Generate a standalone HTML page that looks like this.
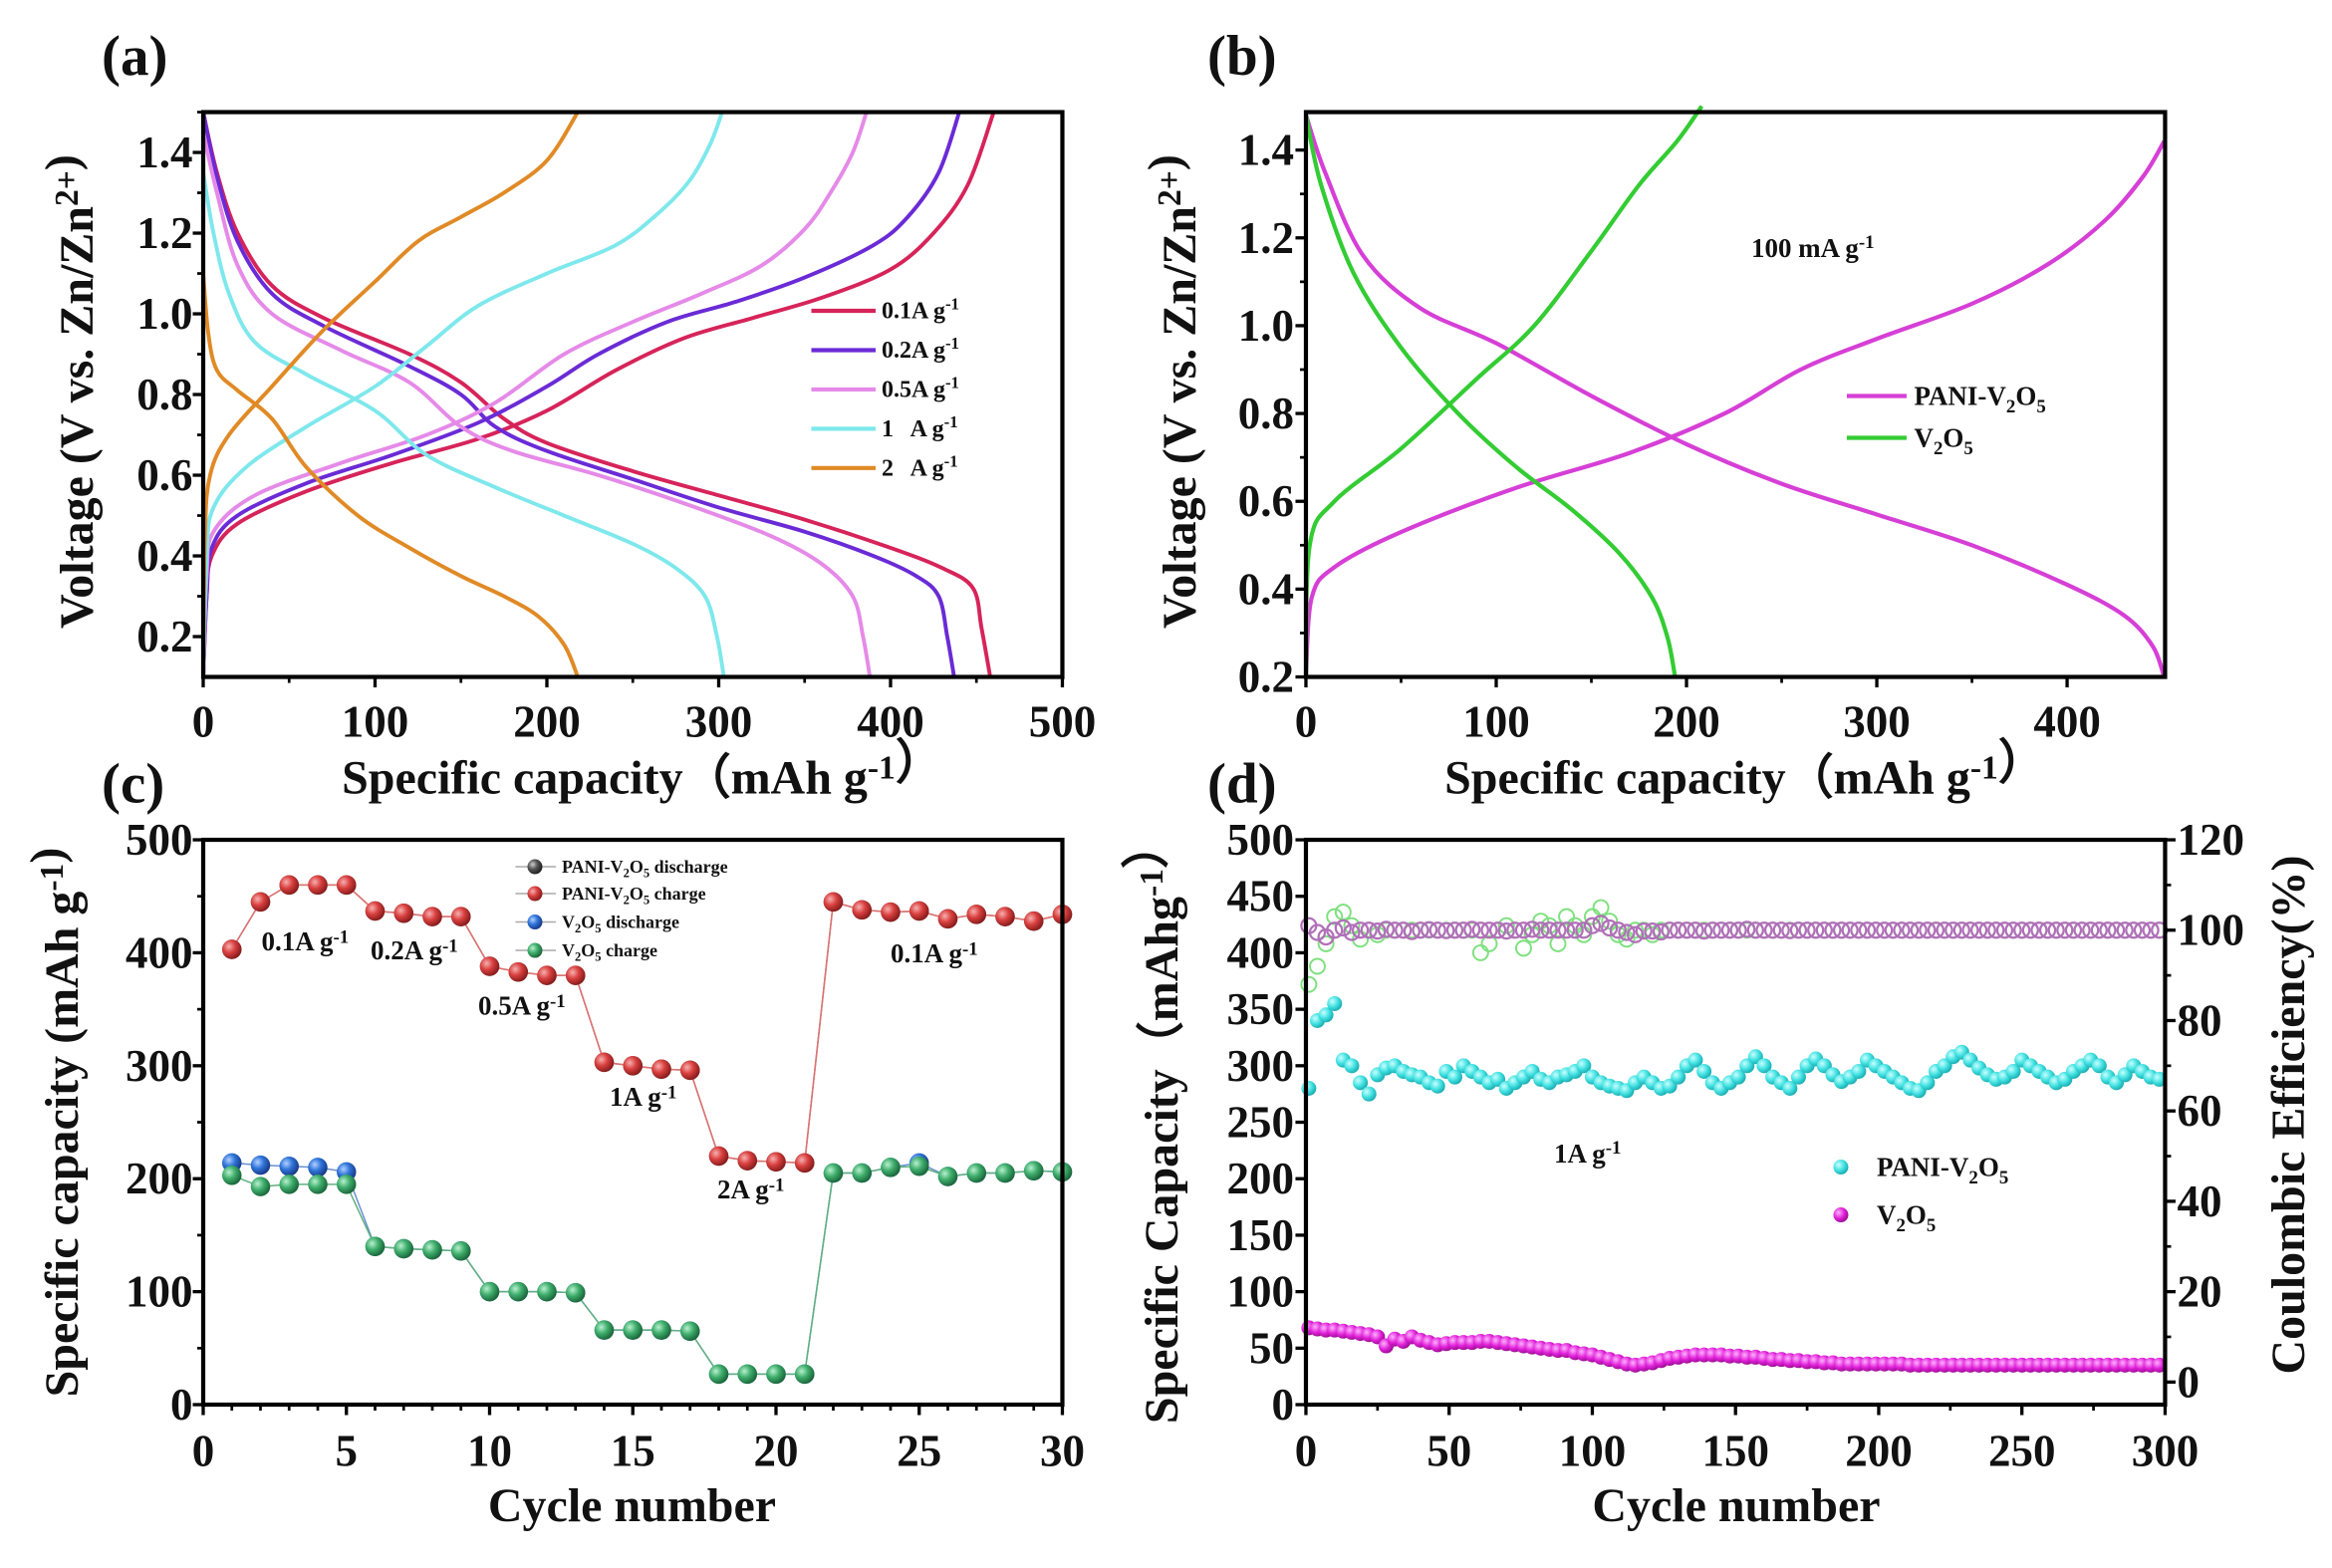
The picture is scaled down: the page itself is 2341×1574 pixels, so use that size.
<!DOCTYPE html>
<html><head><meta charset="utf-8">
<style>
html,body{margin:0;padding:0;background:#fff;}
svg{display:block;}
text{font-family:"Liberation Serif",serif;font-weight:bold;fill:#111;}
</style></head>
<body>
<svg id="fig" width="2341" height="1574" viewBox="0 0 1560.7 1049.3" xmlns="http://www.w3.org/2000/svg">
<defs>
<radialGradient id="gRed" cx="35%" cy="35%" r="65%"><stop offset="0" stop-color="#f7b0b0"/><stop offset="0.5" stop-color="#d9403f"/><stop offset="1" stop-color="#8c1e1e"/></radialGradient>
<radialGradient id="gGreen" cx="35%" cy="35%" r="65%"><stop offset="0" stop-color="#b8f0cf"/><stop offset="0.5" stop-color="#3fae6c"/><stop offset="1" stop-color="#1c6a3d"/></radialGradient>
<radialGradient id="gBlue" cx="35%" cy="35%" r="65%"><stop offset="0" stop-color="#b0d0ff"/><stop offset="0.5" stop-color="#2f74d9"/><stop offset="1" stop-color="#1a3d8c"/></radialGradient>
<radialGradient id="gGrey" cx="35%" cy="35%" r="65%"><stop offset="0" stop-color="#ccc"/><stop offset="0.5" stop-color="#555"/><stop offset="1" stop-color="#222"/></radialGradient>
<radialGradient id="gCyan" cx="35%" cy="35%" r="65%"><stop offset="0" stop-color="#c8ffff"/><stop offset="0.6" stop-color="#3fe0e0"/><stop offset="1" stop-color="#1fb0b5"/></radialGradient>
<radialGradient id="gMag" cx="35%" cy="35%" r="65%"><stop offset="0" stop-color="#ffb0ff"/><stop offset="0.6" stop-color="#e020d8"/><stop offset="1" stop-color="#a01098"/></radialGradient>
</defs>
</svg>
<script>
// ---------- Panel (a) data: [capacity, voltage] ----------
const a_d01 = [[0,1.5],[8,1.35],[20,1.2],[40,1.07],[70,0.99],[120,0.9],[150,0.83],[175,0.74],[200,0.68],[250,0.61],[300,0.55],[350,0.49],[400,0.42],[430,0.37],[448,0.32],[453,0.22],[458,0.1]];
const a_c01 = [[0,0.1],[2,0.3],[5,0.4],[20,0.48],[60,0.56],[110,0.63],[160,0.69],[200,0.76],[240,0.86],[280,0.94],[320,0.99],[360,1.04],[400,1.11],[425,1.2],[445,1.32],[460,1.5]];
const a_d02 = [[0,1.5],[8,1.34],[20,1.18],[40,1.05],[70,0.97],[120,0.87],[150,0.8],[170,0.72],[200,0.66],[250,0.59],[300,0.52],[350,0.46],[390,0.4],[415,0.35],[428,0.3],[433,0.2],[437,0.1]];
const a_c02 = [[0,0.1],[2,0.3],[5,0.42],[20,0.5],[60,0.58],[110,0.65],[160,0.73],[200,0.82],[230,0.9],[270,0.98],[310,1.03],[350,1.09],[390,1.17],[410,1.24],[428,1.35],[440,1.5]];
const a_d05 = [[0,1.45],[8,1.3],[20,1.12],[40,1.0],[80,0.91],[120,0.83],[150,0.72],[180,0.66],[230,0.6],[280,0.53],[330,0.45],[360,0.38],[378,0.3],[384,0.2],[388,0.1]];
const a_c05 = [[0,0.1],[2,0.35],[6,0.46],[30,0.55],[80,0.63],[130,0.7],[170,0.78],[210,0.9],[250,0.98],[290,1.05],[325,1.12],[350,1.21],[365,1.3],[378,1.4],[386,1.5]];
const a_d1 = [[0,1.35],[6,1.2],[15,1.05],[30,0.93],[60,0.85],[100,0.76],[130,0.65],[170,0.57],[210,0.5],[250,0.43],[275,0.37],[292,0.3],[299,0.2],[303,0.1]];
const a_c1 = [[0,0.1],[2,0.4],[6,0.52],[25,0.62],[60,0.72],[100,0.82],[130,0.92],[160,1.02],[200,1.1],[240,1.17],[265,1.25],[283,1.33],[295,1.42],[302,1.5]];
const a_d2 = [[0,1.1],[3,0.95],[8,0.86],[20,0.81],[40,0.74],[60,0.62],[90,0.5],[120,0.42],[150,0.35],[175,0.3],[195,0.25],[210,0.18],[218,0.1]];
const a_c2 = [[0,0.1],[1,0.45],[4,0.6],[15,0.7],[40,0.82],[70,0.96],[100,1.08],[125,1.18],[150,1.24],[175,1.3],[200,1.38],[218,1.5]];
// ---------- Panel (b) data ----------
const b_pd = [[0,1.48],[10,1.35],[30,1.16],[60,1.04],[100,0.96],[150,0.84],[200,0.73],[250,0.64],[300,0.57],[350,0.5],[400,0.41],[430,0.34],[445,0.27],[451,0.2]];
const b_pc = [[0,0.2],[3,0.38],[15,0.45],[50,0.53],[110,0.63],[170,0.71],[220,0.8],[260,0.9],[300,0.97],[350,1.05],[390,1.14],[420,1.24],[440,1.34],[451,1.42]];
const b_vd = [[0,1.48],[8,1.32],[25,1.12],[50,0.95],[80,0.8],[110,0.68],[140,0.58],[165,0.48],[182,0.38],[190,0.29],[194,0.2]];
const b_vc = [[0,0.2],[2,0.5],[15,0.6],[50,0.72],[90,0.88],[120,1.0],[150,1.17],[175,1.32],[195,1.42],[208,1.5]];
// ---------- Panel (c) data ----------
const c_cycles = [1,2,3,4,5,6,7,8,9,10,11,12,13,14,15,16,17,18,19,20,21,22,23,24,25,26,27,28,29,30];
const c_pani_dis = [403,445,460,460,460,437,435,432,432,388,383,380,380,303,300,297,296,220,216,215,214,445,438,436,437,430,434,432,428,434];
const c_pani_chg = [403,445,460,460,460,437,435,432,432,388,383,380,380,303,300,297,296,220,216,215,214,445,438,436,437,430,434,432,428,434];
const c_v_dis = [214,212,211,210,206,140,138,137,136,100,100,100,99,66,66,66,65,27,27,27,27,205,205,210,214,202,205,205,207,206];
const c_v_chg = [203,193,195,195,195,140,138,137,136,100,100,100,99,66,66,66,65,27,27,27,27,205,205,210,211,202,205,205,207,206];
// ---------- Panel (d) data (every 3rd cycle) ----------
const d_pani_cap = [280,340,345,355,305,300,285,275,292,298,300,295,292,290,285,282,295,290,300,295,290,285,288,280,285,290,295,288,285,290,292,295,300,290,285,282,280,278,285,290,285,280,282,290,300,305,295,285,280,285,290,300,308,300,290,285,280,290,300,306,300,292,286,290,295,305,300,295,290,285,280,278,285,295,300,308,312,305,298,292,288,290,295,305,300,295,290,285,288,295,300,305,300,290,285,292,300,295,290,288];
const d_v_cap = [68,67,66,66,65,64,63,62,60,52,58,56,60,57,55,53,54,55,55,55,56,56,55,54,53,52,51,50,49,48,48,46,45,44,42,40,38,36,35,36,37,39,41,42,43,44,44,44,44,43,43,42,42,41,40,40,39,39,38,38,37,37,36,36,36,36,36,36,36,36,35,35,35,35,35,35,35,35,35,35,35,35,35,35,35,35,35,35,35,35,35,35,35,35,35,35,35,35,35,35];
const d_pani_ce = [101,99.5,98.5,100,100.5,99.5,100,100,99.8,100.2,100,100,99.7,100,100.1,100,99.9,100,100,100.2,100,100,100,99.8,100,100,100.2,100,100,100,100,100,100,101,101.5,100.5,100,99.5,99,99.8,99.8,99.6,100,100,100,100,99.8,100,100,100,100,100.2,100,100,100,100,99.9,100,100,100,100,100,100,100,100,100,100,100,100,100,100,100,100,100,100,100,100,100,100,100,100,100,100,100,100,100,100,100,100,100,100,100,100,100,100,100,100,100,100,100];
const d_v_ce = [88,92,97,103,104,101,98,100,99,100,100,100,100,100,100,100,100,100,100,100,95,97,100,101,100,96,99,102,101,97,103,101,99,103,105,102,99,98,100,100,99,100,100,100,100,100,100,100,100,100,100,100,100,100,100,100,100,100,100,100,100,100,100,100,100,100,100,100,100,100,100,100,100,100,100,100,100,100,100,100,100,100,100,100,100,100,100,100,100,100,100,100,100,100,100,100,100,100,100,100];

const NS = 'http://www.w3.org/2000/svg';
const svg = document.getElementById('fig');
function mk(tag, attrs, parent){
  const e = document.createElementNS(NS, tag);
  for (const k in attrs) e.setAttribute(k, attrs[k]);
  (parent||svg).appendChild(e);
  return e;
}
function txt(s, x, y, size, anchor, parent){
  const t = mk('text', {x:x, y:y, 'font-size':size, 'text-anchor':anchor||'start'}, parent);
  t.innerHTML = s;
  return t;
}
function scale(d0,d1,r0,r1){ return v => r0 + (v-d0)/(d1-d0)*(r1-r0); }
const TICK = 30;

function frame(g, L, T, R, B){
  const r = mk('rect', {x:L, y:T, width:R-L, height:B-T, fill:'none', stroke:'#000', 'stroke-width':2.8}, g);
  
  
}
function xTicks(g, sx, vals, minor, B, labY){
  vals.forEach(v => {
    mk('line', {x1:sx(v), x2:sx(v), y1:B, y2:B+7, stroke:'#000', 'stroke-width':2.2}, g);
    const t = txt(String(v), sx(v), labY, TICK, 'middle', g);
    
    
  });
  minor.forEach(v => mk('line', {x1:sx(v), x2:sx(v), y1:B, y2:B+4, stroke:'#000', 'stroke-width':1.8}, g));
}
function yTicks(g, sy, vals, labels, minor, L, labX, side){
  vals.forEach((v,i) => {
    const dir = side==='r' ? 1 : -1;
    mk('line', {x1:L, x2:L+dir*7, y1:sy(v), y2:sy(v), stroke:'#000', 'stroke-width':2.2}, g);
    const t = txt(labels[i], labX, sy(v)+10, TICK, side==='r'?'start':'end', g);
    
    
  });
  minor.forEach(v => { const dir = side==='r'?1:-1; mk('line', {x1:L, x2:L+dir*4, y1:sy(v), y2:sy(v), stroke:'#000', 'stroke-width':1.8}, g); });
}
function curve(g, pts, sx, sy, color, name, w){
  const P = pts.map(p=>[sx(p[0]), sy(p[1])]);
  let d = 'M'+P[0][0].toFixed(2)+' '+P[0][1].toFixed(2);
  for (let i=0;i<P.length-1;i++){
    const p0=P[Math.max(i-1,0)], p1=P[i], p2=P[i+1], p3=P[Math.min(i+2,P.length-1)];
    const c1=[p1[0]+(p2[0]-p0[0])/6, p1[1]+(p2[1]-p0[1])/6];
    const c2=[p2[0]-(p3[0]-p1[0])/6, p2[1]-(p3[1]-p1[1])/6];
    d += ' C'+c1[0].toFixed(2)+' '+c1[1].toFixed(2)+' '+c2[0].toFixed(2)+' '+c2[1].toFixed(2)+' '+p2[0].toFixed(2)+' '+p2[1].toFixed(2);
  }
  const p = mk('path', {d:d, fill:'none', stroke:color, 'stroke-width':w||2.6, 'stroke-linejoin':'round'}, g);
  
  
}
const SUP = s => '<tspan dy="-10" font-size="70%">'+s+'</tspan>';

// ================= Panel (a) =================
{
  const g = mk('g', {});
  
  
  const L=136,R=711,T=75,B=453;
  const sx = scale(0,500,L,R), sy = scale(0.1,1.5,B,T);
  [['#d6245a',a_d01,a_c01,'0.1'],['#6a2bd6',a_d02,a_c02,'0.2'],['#e58ae8',a_d05,a_c05,'0.5'],['#7ee8ec',a_d1,a_c1,'1'],['#e08a26',a_d2,a_c2,'2']].forEach(s=>{
    curve(g, s[1], sx, sy, s[0], 'discharge-curve-'+s[3]);
    curve(g, s[2], sx, sy, s[0], 'charge-curve-'+s[3]);
  });
  frame(g,L,T,R,B);
  xTicks(g, sx, [0,100,200,300,400,500], [50,150,250,350,450], B, 493);
  yTicks(g, sy, [0.2,0.4,0.6,0.8,1.0,1.2,1.4], ['0.2','0.4','0.6','0.8','1.0','1.2','1.4'], [0.3,0.5,0.7,0.9,1.1,1.3,1.5], L, 129, 'l');
  let t = txt('(a)', 68, 50, 38, 'start', g);  
  t = txt('Specific capacity（mAh g'+SUP('-1')+'）', 430, 531, 32, 'middle', g);  
  t = txt('Voltage (V vs. Zn/Zn'+SUP('2+')+')', 0, 0, 32, 'middle', g); t.setAttribute('transform','translate(62,262) rotate(-90)');  
  const leg = [['#d6245a','0.1A g'],['#6a2bd6','0.2A g'],['#e58ae8','0.5A g'],['#7ee8ec','1 &#160; A g'],['#e08a26','2 &#160; A g']];
  leg.forEach((l,i)=>{
    const y = 208 + i*26.3;
    const ln = mk('line', {x1:543, x2:586, y1:y, y2:y, stroke:l[0], 'stroke-width':2.8}, g);
     
    const tt = txt(l[1]+'<tspan dy="-6" font-size="70%">-1</tspan>', 590, y+5, 16, 'start', g);
     
  });
}
// ================= Panel (b) =================
{
  const g = mk('g', {});
  
  
  const L=874,R=1449,T=75,B=453;
  const sx = scale(0,451.5,L,R), sy = scale(0.2,1.5,B,T-4);
  curve(g, b_pd, sx, sy, '#d63fd6', 'pani-discharge-curve', 2.8);
  curve(g, b_pc, sx, sy, '#d63fd6', 'pani-charge-curve', 2.8);
  curve(g, b_vd, sx, sy, '#33cc33', 'v2o5-discharge-curve', 2.8);
  curve(g, b_vc, sx, sy, '#33cc33', 'v2o5-charge-curve', 2.8);
  frame(g,L,T,R,B);
  xTicks(g, sx, [0,100,200,300,400], [50,150,250,350], B, 493);
  yTicks(g, sy, [0.2,0.4,0.6,0.8,1.0,1.2,1.4], ['0.2','0.4','0.6','0.8','1.0','1.2','1.4'], [0.3,0.5,0.7,0.9,1.1,1.3], L, 866, 'l');
  let t = txt('(b)', 808, 50, 38, 'start', g);  
  t = txt('Specific capacity（mAh g'+SUP('-1')+'）', 1168, 531, 32, 'middle', g);  
  t = txt('Voltage (V vs. Zn/Zn'+SUP('2+')+')', 0, 0, 32, 'middle', g); t.setAttribute('transform','translate(800,262) rotate(-90)');  
  t = txt('100 mA g<tspan dy="-6" font-size="70%">-1</tspan>', 1172, 172, 18, 'start', g);  
  [['#d63fd6','PANI-V<tspan dy="5" font-size="70%">2</tspan><tspan dy="-5">O</tspan><tspan dy="5" font-size="70%">5</tspan>',265],['#33cc33','V<tspan dy="5" font-size="70%">2</tspan><tspan dy="-5">O</tspan><tspan dy="5" font-size="70%">5</tspan>',293]].forEach(l=>{
    const ln = mk('line', {x1:1236, x2:1276, y1:l[2], y2:l[2], stroke:l[0], 'stroke-width':2.8}, g);
     
    const tt = txt(l[1], 1281, l[2]+6, 18, 'start', g);
     
  });
}
// ================= Panel (c) =================
{
  const g = mk('g', {});
  
  
  const L=136,R=711,T=562,B=940;
  const sx = scale(0,30,L,R), sy = scale(0,500,B,T);
  function series(vals, color, grad, name){
    const d = vals.map((v,i)=>(i?'L':'M')+sx(c_cycles[i]).toFixed(2)+' '+sy(v).toFixed(2)).join(' ');
    const p = mk('path', {d:d, fill:'none', stroke:color, 'stroke-width':1}, g);
     
    vals.forEach((v,i)=>{
      const c = mk('circle', {cx:sx(c_cycles[i]), cy:sy(v), r:6.5, fill:'url(#'+grad+')'}, g);
       
    });
  }
  series(c_pani_dis, '#888', 'gGrey', 'pani-discharge');
  series(c_pani_chg, '#e07070', 'gRed', 'pani-charge');
  series(c_v_dis, '#6a90d0', 'gBlue', 'v2o5-discharge');
  series(c_v_chg, '#60b080', 'gGreen', 'v2o5-charge');
  frame(g,L,T,R,B);
  xTicks(g, sx, [0,5,10,15,20,25,30], [1,2,3,4,6,7,8,9,11,12,13,14,16,17,18,19,21,22,23,24,26,27,28,29], B, 981);
  yTicks(g, sy, [0,100,200,300,400,500], ['0','100','200','300','400','500'], [50,150,250,350,450], L, 129, 'l');
  let t = txt('(c)', 68, 537, 38, 'start', g);  
  t = txt('Cycle number', 423, 1018, 32, 'middle', g);  
  t = txt('Specific capacity (mAh g'+SUP('-1')+')', 0, 0, 32, 'middle', g); t.setAttribute('transform','translate(52,751) rotate(-90)');  
  const sub = '<tspan dy="-5" font-size="70%">-1</tspan>';
  [['0.1A g',175,636],['0.2A g',248,642],['0.5A g',320,679],['1A g',408,740],['2A g',480,802],['0.1A g',596,644]].forEach(a=>{
    const tt = txt(a[0]+sub, a[1], a[2], 18, 'start', g);  
  });
  const v2o5 = 'V<tspan dy="3" font-size="70%">2</tspan><tspan dy="-3">O</tspan><tspan dy="3" font-size="70%">5</tspan><tspan dy="-3">';
  [['gGrey','PANI-'+v2o5+' discharge</tspan>',580],['gRed','PANI-'+v2o5+' charge</tspan>',598],['gBlue',v2o5+' discharge</tspan>',617],['gGreen',v2o5+' charge</tspan>',636]].forEach(l=>{
    mk('line', {x1:345, x2:372, y1:l[2], y2:l[2], stroke:'#aaa', 'stroke-width':1}, g);
    const c = mk('circle', {cx:358, cy:l[2], r:5, fill:'url(#'+l[0]+')'}, g);
     
    const tt = txt(l[1], 376, l[2]+4, 12, 'start', g);  
  });
}
// ================= Panel (d) =================
{
  const g = mk('g', {});
  
  
  const L=874,R=1449,T=562,B=940;
  const sx = scale(0,300,L,R), sy = scale(0,500,B,T), sy2 = scale(-5,120,B,T);
  const cyc = i => 1 + i*3;
  d_v_ce.forEach((v,i)=>{ const c=mk('circle',{cx:sx(cyc(i)),cy:sy2(v),r:5,fill:'none',stroke:'#7ee07e','stroke-width':1.3},g);   });
  d_pani_ce.forEach((v,i)=>{ const c=mk('circle',{cx:sx(cyc(i)),cy:sy2(v),r:5,fill:'none',stroke:'#b070b8','stroke-width':1.5},g);   });
  d_pani_cap.forEach((v,i)=>{ const c=mk('circle',{cx:sx(cyc(i)),cy:sy(v),r:5,fill:'url(#gCyan)'},g);   });
  d_v_cap.forEach((v,i)=>{ const c=mk('circle',{cx:sx(cyc(i)),cy:sy(v),r:5,fill:'url(#gMag)'},g);   });
  frame(g,L,T,R,B);
  xTicks(g, sx, [0,50,100,150,200,250,300], [25,75,125,175,225,275], B, 981);
  yTicks(g, sy, [0,50,100,150,200,250,300,350,400,450,500], ['0','50','100','150','200','250','300','350','400','450','500'], [], L, 866, 'l');
  yTicks(g, sy2, [0,20,40,60,80,100,120], ['0','20','40','60','80','100','120'], [10,30,50,70,90,110], R, 1457, 'r');
  let t = txt('(d)', 808, 537, 38, 'start', g);  
  t = txt('Cycle number', 1162, 1018, 32, 'middle', g);  
  t = txt('Specific Capacity（mAhg'+SUP('-1')+'）', 0, 0, 32, 'middle', g); t.setAttribute('transform','translate(788,751) rotate(-90)');  
  t = txt('Coulombic Efficiency(%)', 0, 0, 32, 'middle', g); t.setAttribute('transform','translate(1542,746) rotate(-90)');  
  t = txt('1A g<tspan dy="-6" font-size="70%">-1</tspan>', 1040, 778, 18, 'start', g);  
  [['gCyan','PANI-V<tspan dy="5" font-size="70%">2</tspan><tspan dy="-5">O</tspan><tspan dy="5" font-size="70%">5</tspan>',781],['gMag','V<tspan dy="5" font-size="70%">2</tspan><tspan dy="-5">O</tspan><tspan dy="5" font-size="70%">5</tspan>',813]].forEach(l=>{
    const c = mk('circle',{cx:1232,cy:l[2],r:5,fill:'url(#'+l[0]+')'},g);  
    const tt = txt(l[1], 1256, l[2]+6, 18, 'start', g);  
  });
}
</script>
</body></html>
